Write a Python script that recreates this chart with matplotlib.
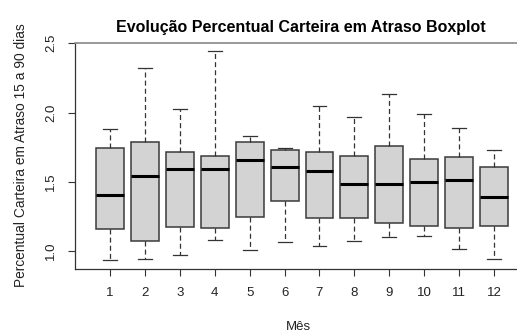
import matplotlib
matplotlib.use("Agg")
import matplotlib.pyplot as plt

plt.rcParams['font.family'] = ['Liberation Sans', 'DejaVu Sans']

meses = [1, 2, 3, 4, 5, 6, 7, 8, 9, 10, 11, 12]
whisker_low = [0.935, 0.944, 0.973, 1.084, 1.007, 1.067, 1.040, 1.074, 1.101, 1.113, 1.017, 0.944]
q1 = [1.161, 1.074, 1.175, 1.168, 1.245, 1.361, 1.240, 1.240, 1.204, 1.180, 1.168, 1.180]
median = [1.406, 1.543, 1.591, 1.591, 1.656, 1.606, 1.579, 1.483, 1.488, 1.500, 1.512, 1.394]
q3 = [1.743, 1.790, 1.718, 1.690, 1.786, 1.728, 1.714, 1.685, 1.757, 1.663, 1.678, 1.610]
whisker_high = [1.882, 2.322, 2.026, 2.442, 1.829, 1.743, 2.046, 1.966, 2.134, 1.990, 1.887, 1.731]
y_ticks = [1.0, 1.5, 2.0, 2.5]

title = "Evolução Percentual Carteira em Atraso Boxplot"
xlabel = "Mês"
ylabel = "Percentual Carteira em Atraso 15 a 90 dias"

stats = []
for m, wl, a, md, b, wh in zip(meses, whisker_low, q1, median, q3, whisker_high):
    stats.append(dict(label=str(m), whislo=wl, q1=a, med=md, q3=b, whishi=wh, fliers=[]))

fig = plt.figure(figsize=(5.17, 3.32), dpi=100)
ax = fig.add_axes([0.1453, 0.1898, 0.8778, 0.6798])

ax.bxp(stats, positions=meses, widths=0.8, patch_artist=True, showfliers=False,
       boxprops=dict(facecolor='#D3D3D3', edgecolor='#3a3a3a', linewidth=1.1),
       medianprops=dict(color='black', linewidth=2.2, solid_capstyle='butt'),
       whiskerprops=dict(color='#333333', linewidth=0.9, linestyle=(0, (4, 2.5))),
       capprops=dict(color='#333333', linewidth=0.9),
       capwidths=0.4)

ax.set_xlim(0.0, 13.0)
ax.set_ylim(0.872, 2.5)
ax.set_yticks(y_ticks)
ax.set_yticklabels([f"{v:.1f}" for v in y_ticks], rotation=90, va='center')
ax.set_xticks(meses)
ax.set_xticklabels([str(m) for m in meses])

ax.tick_params(axis='both', length=5, width=0.8, color='#333333', labelsize=9.5,
               labelcolor='#222222')
ax.tick_params(axis='y', pad=8)
ax.tick_params(axis='x', pad=8)

for s in ['left', 'bottom']:
    ax.spines[s].set_color('#333333')
    ax.spines[s].set_linewidth(0.9)
ax.spines['top'].set_color('#888888')
ax.spines['top'].set_linewidth(1.2)
ax.spines['right'].set_color('#888888')

fig.text(0.582, 0.918, title, ha='center', va='center', fontsize=11.5,
         fontweight='bold', color='black')
fig.text(0.577, 0.014, xlabel, ha='center', va='center', fontsize=9.5, color='#222222')
fig.text(0.040, 0.532, ylabel, ha='center', va='center', rotation=90,
         fontsize=9.9, color='#222222')

fig.savefig("out.png", dpi=100)
